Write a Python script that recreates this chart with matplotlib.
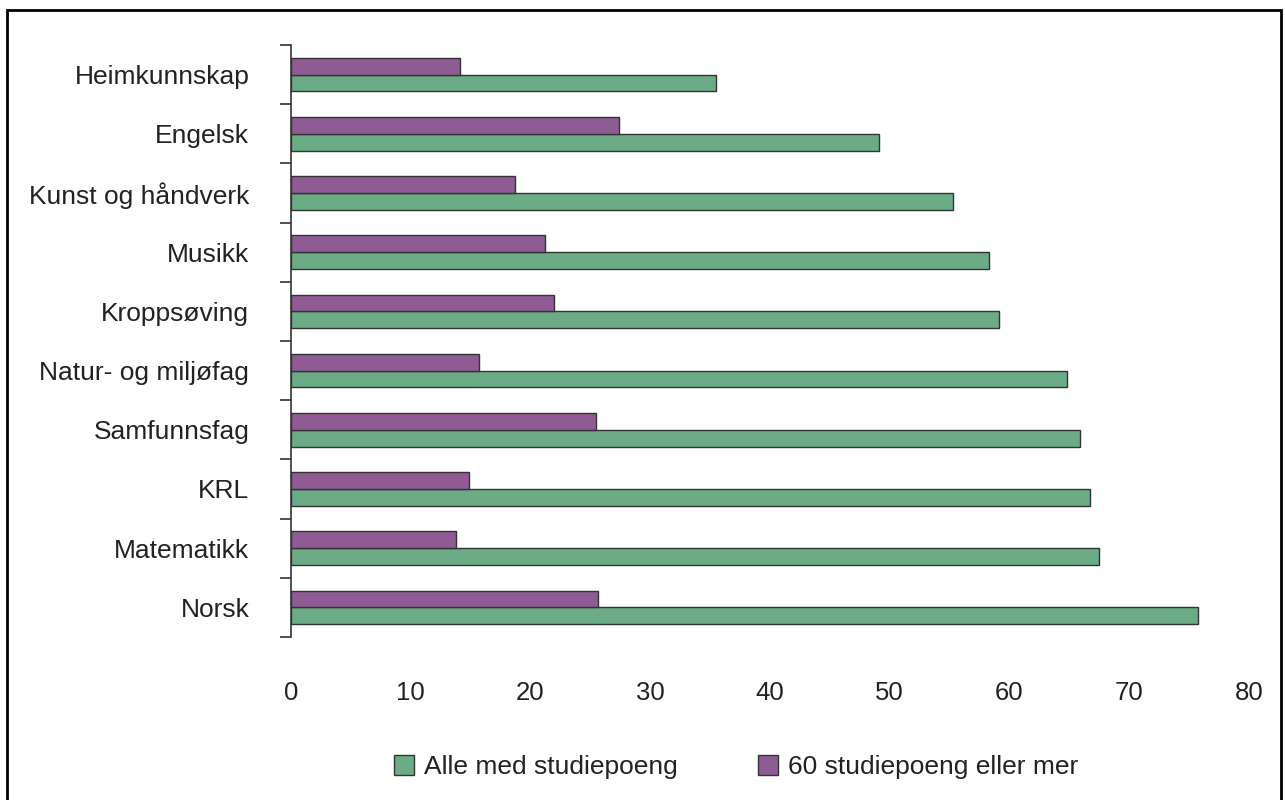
import matplotlib.pyplot as plt
import numpy as np
from matplotlib.patches import Rectangle

plt.rcParams['font.family'] = ['Liberation Sans', 'DejaVu Sans']

categories = ["Heimkunnskap", "Engelsk", "Kunst og håndverk", "Musikk", "Kroppsøving",
              "Natur- og miljøfag", "Samfunnsfag", "KRL", "Matematikk", "Norsk"]
alle = [35.5, 49.1, 55.3, 58.3, 59.1, 64.8, 65.9, 66.7, 67.5, 75.7]
seksti = [14.1, 27.4, 18.7, 21.2, 22.0, 15.7, 25.5, 14.9, 13.8, 25.6]
series_labels = ["Alle med studiepoeng", "60 studiepoeng eller mer"]
xticks = [0, 10, 20, 30, 40, 50, 60, 70, 80]

green = "#6BAC87"
purple = "#8F5B94"
edge = "#333333"
text_color = "#222222"

fig = plt.figure(figsize=(12.85, 8), dpi=100)
ax = fig.add_axes([291/1285, 1 - 637/800, (1249 - 291)/1285, (637 - 45)/800])

y = np.arange(len(categories))
h = 0.285
ax.barh(y + h/2, alle, height=h, color=green, edgecolor=edge, linewidth=1.0,
        label=series_labels[0])
ax.barh(y - h/2, seksti, height=h, color=purple, edgecolor=edge, linewidth=1.0,
        label=series_labels[1])

ax.set_ylim(len(categories) - 0.5, -0.5)
ax.set_xlim(0, 80)

# category labels centred between the boundary ticks
ax.set_yticks(y)
ax.set_yticklabels(categories, fontsize=19, color=text_color)
ax.tick_params(axis='y', which='major', length=0, pad=30)
ax.set_yticks(np.arange(-0.5, len(categories), 1.0), minor=True)
ax.tick_params(axis='y', which='minor', length=8, width=1.2, color="#333333")

ax.set_xticks(xticks)
ax.set_xticklabels([str(t) for t in xticks], fontsize=18.5, color=text_color)
ax.tick_params(axis='x', length=0, pad=32)

for s in ['top', 'right', 'bottom']:
    ax.spines[s].set_visible(False)
ax.spines['left'].set_color("#333333")
ax.spines['left'].set_linewidth(1.2)

handles, labels = ax.get_legend_handles_labels()
fig.legend(handles, labels, loc='center', bbox_to_anchor=(736/1285, 1 - 767/800),
           ncol=2, frameon=False, fontsize=19, handlelength=0.76, handleheight=0.76,
           columnspacing=3.05, handletextpad=0.38, labelcolor=text_color,
           borderpad=0)

# outer frame
fig.add_artist(Rectangle((7/1285, -0.01), (1281 - 7)/1285, 1 - 10/800 + 0.01,
                         transform=fig.transFigure, fill=False,
                         edgecolor="black", linewidth=2))

fig.savefig("out.png", dpi=100)
